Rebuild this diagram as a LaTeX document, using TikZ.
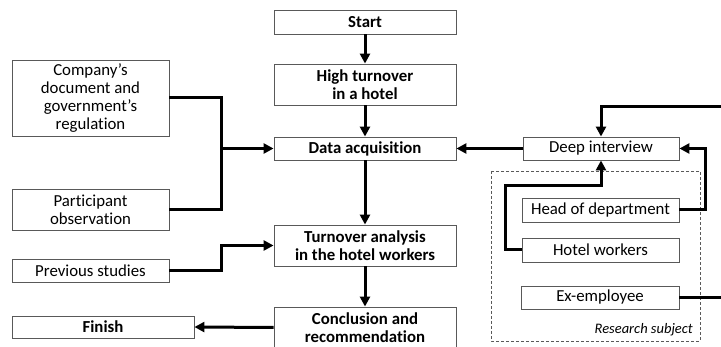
\documentclass[tikz,border=0pt]{standalone}
\usepackage{fontspec}
\setmainfont[RawFeature={-liga}]{Carlito}
\usetikzlibrary{arrows.meta}
\begin{document}
\begin{tikzpicture}[x=1pt,y=1pt]
\tikzstyle{every node}+=[inner sep=0pt]
\tikzstyle{box}=[draw=black!65, line width=0.9pt, fill=white, align=center, font=\fontsize{16.8}{18}\selectfont]
\tikzstyle{bbox}=[box, font=\fontsize{16.8}{18}\selectfont\bfseries]
\tikzstyle{wire}=[black, line width=3pt]
\tikzstyle{link}=[wire, -{Triangle[length=10pt,width=10pt]}]
\useasboundingbox (0,0) rectangle (721,-347);
\draw [black!65, line width=0.8pt, dash pattern=on 3pt off 2pt] (491,-171) rectangle (700,-341);
\node [font=\fontsize{14.5}{16}\selectfont\itshape, anchor=east] (subj) at (693,-330) {Research subject};
\node [bbox, minimum width=182pt, minimum height=24pt] (start) at (365,-22) {Start};
\node [bbox, minimum width=182pt, minimum height=41pt] (high) at (365,-84.5) {High turnover\\in a hotel};
\node [bbox, minimum width=182pt, minimum height=23pt] (acq) at (365,-148.5) {Data acquisition};
\node [bbox, minimum width=182pt, minimum height=41pt] (analysis) at (365,-245.5) {Turnover analysis\\in the hotel workers};
\node [bbox, minimum width=182pt, minimum height=41pt] (concl) at (365,-327.5) {Conclusion and\\recommendation};
\node [box, minimum width=157pt, minimum height=76pt] (company) at (90.5,-98) {Company's\\document and\\government's\\regulation};
\node [box, minimum width=157pt, minimum height=41pt] (particip) at (90.5,-209.5) {Participant\\observation};
\node [box, minimum width=157pt, minimum height=23pt] (previous) at (90.5,-270.5) {Previous studies};
\node [bbox, minimum width=182pt, minimum height=22pt] (finish) at (103,-327) {Finish};
\node [box, minimum width=156pt, minimum height=23pt] (deep) at (601,-148.5) {Deep interview};
\node [box, minimum width=157pt, minimum height=24pt] (head) at (600.5,-210) {Head of department};
\node [box, minimum width=157pt, minimum height=24pt] (workers) at (600.5,-250) {Hotel workers};
\node [box, minimum width=158pt, minimum height=23pt] (exemp) at (600,-297.5) {Ex-employee};
\coordinate (join) at (221,-148.5);
\draw [link] (start) -- (high);
\draw [link] (high) -- (acq);
\draw [wire] (company.east) -| (join);
\draw [wire] (particip.east) -| (join);
\draw [link] (join) -- (acq.west);
\draw [link] (deep.west) -- (acq.east);
\draw [link] (acq) -- (analysis);
\draw [link] (previous.east) -- ++(52,0) |- (analysis.west);
\draw [link] (analysis) -- (concl);
\draw [link] (concl.west) -- (finish.east);
\draw [link] (workers.west) -- ++(-16,0) |- ([yshift=-25pt]deep.south) -- (deep.south);
\draw [link] (head.east) -- ++(26,0) |- (deep.east);
\draw [link] (exemp.east) -- ++(45,0) |- ([yshift=30pt]deep.north) -- (deep.north);
\end{tikzpicture}
\end{document}
